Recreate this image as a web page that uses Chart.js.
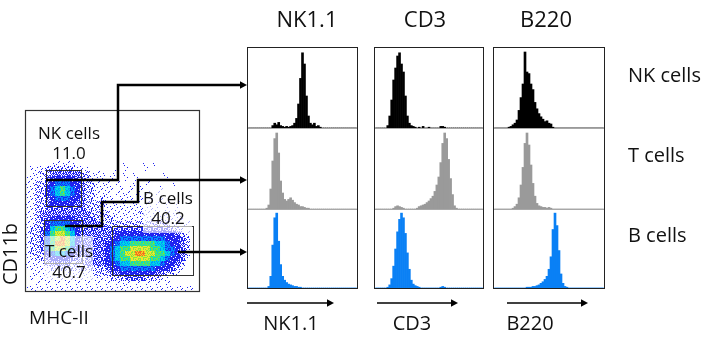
<!DOCTYPE html>
<html>
<head>
<meta charset="utf-8">
<script src="https://cdn.jsdelivr.net/npm/chart.js@4.4.0/dist/chart.umd.min.js"></script>
<style>
  html, body { margin: 0; padding: 0; background: #fff; }
  #fig { position: relative; width: 703px; height: 341px; overflow: hidden;
         font-family: "Open Sans", sans-serif; color: #111; }
  #fig canvas { position: absolute; }
  .t { position: absolute; white-space: nowrap; line-height: 1; transform: translate(-50%, -50%); }
  .l { position: absolute; white-space: nowrap; line-height: 1; transform: translate(0, -50%); }
  .bg { position: absolute; background: rgba(255, 255, 255, 0.62); }
  #overlay { position: absolute; left: 0; top: 0; }
</style>
</head>
<body>
<div id="fig">
  <svg id="overlay" width="703" height="341"></svg>
</div>
<script>
// ---- MHC-II vs CD11b dot plot: event density per 5x5 cell (0 = empty ... 9 = densest)
// 35 columns (MHC-II, low -> high) x 36 rows (CD11b, high -> low)
const DENSITY_ROWS = [
  "00000 00000 00000 00000 00000 00000 00000",
  "00000 00000 00000 00000 00000 00000 00000",
  "00000 00000 00000 00000 00000 00000 00000",
  "00000 00000 00000 00000 00000 00000 00000",
  "00000 00000 00000 00000 00000 00000 00000",
  "00000 00000 00000 00000 00000 00000 00000",
  "00000 00000 00000 00000 00000 00000 00000",
  "00000 00000 00000 00000 00000 00000 00000",
  "00000 00000 00000 00000 00000 00000 00000",
  "00000 00000 00000 00000 00000 00000 00000",
  "00000 11111 00000 00001 00010 10000 00000",
  "01112 22222 11100 00010 10001 00000 00000",
  "01122 33333 32211 10101 01000 00100 00000",
  "11113 44444 33211 10100 10100 00010 00000",
  "11223 45554 43221 11010 01001 00001 00000",
  "11224 56765 43221 11101 01010 00100 00000",
  "11224 56765 43221 11011 10101 01000 00000",
  "11223 45554 43221 21101 11010 10100 00000",
  "11223 44444 33222 21111 01101 01010 10000",
  "11223 33333 33222 21111 11111 11010 10000",
  "11233 33333 33322 22111 11121 11111 10000",
  "11233 44444 33332 22211 11111 11111 11000",
  "11224 55554 43333 22222 22222 22221 11100",
  "12234 67765 43333 33333 33333 33332 21000",
  "12235 78876 43333 33344 44444 44444 32100",
  "12235 78986 43333 33445 55555 55544 43200",
  "12235 79986 43333 34456 67777 76654 43200",
  "12235 78875 43333 34567 78888 77655 43200",
  "12224 56654 33333 34567 88998 87765 43200",
  "11223 44443 32333 34567 78888 77654 43100",
  "11112 33332 22333 34456 67777 66544 32000",
  "11111 22222 22222 23445 55555 54443 21000",
  "01111 11111 11112 22334 44444 43322 10000",
  "01011 11111 11111 11222 33332 22110 00000",
  "00101 01010 10101 01011 10101 01010 00000",
  "11111 11111 11111 11111 11111 11111 11110"
];

// ---- Histograms (55 bins, % of modal count) for each gated population
const BINS = 55;
const NK11_NK = [0,0,0,0,0,0,0,0,0,0,0,0, 3,6,4,7,3,2,1,2,1,2,3,6,12,30,62,94,80,40,15,6,4,6,2,3,1];
const NK11_T  = [0,0,0,0,0,0,0,0,0, 1,5,25,60,88,95,70,35,20,12,10,12,14,11,8,6,5,3,3,2,1,1];
const NK11_B  = [0,0,0,0,0,0,0,0,0,0, 2,15,55,90,96,60,30,15,10,7,5,4,3,2,2,1,1];
const CD3_NK  = [0,0,0,0,0,0, 3,15,35,60,75,90,94,80,70,40,15,6,3,2,1,0,1,0,2,0,0,1,0,0,0,0,0,2,2,1];
const CD3_T   = [0,0,0,0,0,0,0,0,0, 1,3,4,3,2,1, 0,0,0,0,0,0, 1,3,4,5,6,8,10,13,16,22,30,40,58,82,95,88,62,38,18,4,1];
const CD3_B   = [0,0,0,0,0,0, 1,4,12,28,50,72,88,96,90,70,45,24,10,5,3,2,1, 0,0,0,0,0,0,0,0,0,0, 1,2,1];
const B220_NK = [0,0,0,0,0,0,0, 1,2,4,6,10,22,38,55,95,70,68,55,48,32,24,18,14,11,8,9,6,5,1];
const B220_T  = [0,0,0,0,0,0,0,0,0, 1,3,6,14,30,52,82,95,80,55,32,16,7,4,3,2,2,1,2,1];
const B220_B  = [0,0,0,0,0,0,0,0,0,0,0,0,0,0,0,0, 1,1,1,2,2,3,4,6,8,11,15,24,40,75,96,80,48,18,6,2,1];

const MARKERS = ["NK1.1", "CD3", "B220"];
const POPULATIONS = ["NK cells", "T cells", "B cells"];
const GATE_PERCENTS = ["11.0", "40.7", "40.2"];

// ---- styling
// every density level is a fixed 10x10 dot texture: pixels whose order is
// below `cover` take colour a, the rest colour b (or stay empty)
const DOT_ORDER = [
  "3718052946",
  "5290416837",
  "8463927105",
  "1057384629",
  "6924158370",
  "4381609752",
  "9702543168",
  "2546871093",
  "7139260485",
  "0865792314"
];
const BLUE = "rgb(32,36,240)";
const LEVEL_STYLE = [null,
  { a: BLUE, b: null, cover: 1 },
  { a: BLUE, b: null, cover: 3 },
  { a: BLUE, b: null, cover: 6 },
  { a: BLUE, b: null, cover: 9 },
  { a: "rgb(0,140,255)", b: BLUE, cover: 6 },
  { a: "rgb(0,220,225)", b: "rgb(0,150,255)", cover: 6 },
  { a: "rgb(100,230,80)", b: "rgb(0,215,215)", cover: 6 },
  { a: "rgb(240,232,45)", b: "rgb(130,230,70)", cover: 6 },
  { a: "rgb(245,110,30)", b: "rgb(242,205,40)", cover: 6 }
];
const POP_COLORS = ["#000000", "#9a9a9a", "#0a80f5"];

const fig = document.getElementById("fig");
const svg = document.getElementById("overlay");
const NS = "http://www.w3.org/2000/svg";

function addCanvas(left, top, w, h) {
  const c = document.createElement("canvas");
  c.width = w; c.height = h;
  c.style.left = left + "px"; c.style.top = top + "px";
  c.style.width = w + "px"; c.style.height = h + "px";
  fig.insertBefore(c, svg);
  return c;
}
function addDiv(cls, text, x, y, size, extra) {
  const d = document.createElement("div");
  d.className = cls;
  if (text) d.textContent = text;
  d.style.left = x + "px"; d.style.top = y + "px";
  if (size) d.style.fontSize = size + "px";
  if (extra) Object.assign(d.style, extra);
  fig.appendChild(d);
  return d;
}
function svgEl(tag, attrs) {
  const e = document.createElementNS(NS, tag);
  for (const k in attrs) e.setAttribute(k, attrs[k]);
  svg.appendChild(e);
  return e;
}
function dotTexture(ctx, style) {
  const tile = document.createElement("canvas");
  tile.width = 10; tile.height = 10;
  const tc = tile.getContext("2d");
  DOT_ORDER.forEach((row, j) => {
    for (let i = 0; i < row.length; i++) {
      const col = +row[i] < style.cover ? style.a : style.b;
      if (col) { tc.fillStyle = col; tc.fillRect(i, j, 1, 1); }
    }
  });
  return ctx.createPattern(tile, "repeat");
}

const baseOpts = {
  responsive: false, animation: false, events: [],
  devicePixelRatio: 1,
  layout: { padding: 0, autoPadding: false },
  plugins: { legend: { display: false }, tooltip: { enabled: false } }
};

// ---- density dot plot
const CELL = 5;
const nCols = 35, nRows = DENSITY_ROWS.length;
const dotCanvas = addCanvas(25, 111, nCols * CELL, nRows * CELL);
const dotCtx = dotCanvas.getContext("2d");
const densitySets = [];
for (let lvl = 1; lvl <= 9; lvl++) {
  densitySets.push({
    data: [], backgroundColor: dotTexture(dotCtx, LEVEL_STYLE[lvl]), borderWidth: 0,
    pointStyle: "rect", pointRadius: CELL / Math.SQRT2, pointHoverRadius: CELL / Math.SQRT2
  });
}
DENSITY_ROWS.forEach((row, r) => {
  const s = row.replace(/\s+/g, "");
  for (let c = 0; c < s.length; c++) {
    const v = +s[c];
    if (v > 0) densitySets[v - 1].data.push({ x: c + 0.5, y: r + 0.5 });
  }
});
new Chart(dotCanvas, {
  type: "scatter",
  data: { datasets: densitySets },
  options: Object.assign({}, baseOpts, {
    scales: {
      x: { type: "linear", display: false, min: 0, max: nCols },
      y: { type: "linear", display: false, min: 0, max: nRows, reverse: true }
    }
  })
});

// ---- histogram panels
const binLabels = Array.from({ length: BINS }, (_, i) => i);
const padBins = a => a.concat(new Array(Math.max(0, BINS - a.length)).fill(0));
const panels = [
  { left: 247, width: 110, series: [NK11_NK, NK11_T, NK11_B] },
  { left: 374, width: 109, series: [CD3_NK, CD3_T, CD3_B] },
  { left: 493, width: 111, series: [B220_NK, B220_T, B220_B] }
];
const rowTops = [48, 129, 210], rowHeights = [80, 80, 78];
panels.forEach(p => {
  p.series.forEach((vals, i) => {
    new Chart(addCanvas(p.left + 1, rowTops[i], p.width - 1, rowHeights[i]), {
      type: "bar",
      data: { labels: binLabels, datasets: [{
        data: padBins(vals), backgroundColor: POP_COLORS[i], borderWidth: 0,
        barPercentage: 1, categoryPercentage: 1
      }] },
      options: Object.assign({}, baseOpts, {
        scales: {
          x: { display: false },
          y: { display: false, min: 0, max: 100 }
        }
      })
    });
  });
  svgEl("rect", { x: p.left + 0.5, y: 47.5, width: p.width, height: 241,
                  fill: "none", stroke: "#222", "stroke-width": 1 });
  [128.5, 209.5].forEach(y => svgEl("line", { x1: p.left + 1, x2: p.left + p.width, y1: y, y2: y,
                                              stroke: "#a8a8a8", "stroke-width": 1 }));
});

// ---- label backgrounds inside the dot plot
addDiv("bg", null, 44, 236, null, { width: "49px", height: "44px" });
addDiv("bg", null, 143, 188, null, { width: "49px", height: "45px" });

// ---- dot plot frame and gates
svgEl("rect", { x: 25.5, y: 110.5, width: 174, height: 181, fill: "none", stroke: "#333", "stroke-width": 1.2 });
svgEl("rect", { x: 46.5, y: 170.5, width: 35, height: 36, fill: "none", stroke: "#333", "stroke-width": 1 });
svgEl("rect", { x: 44.5, y: 220.5, width: 38, height: 43, fill: "none", stroke: "#333", "stroke-width": 1 });
svgEl("rect", { x: 112.5, y: 226.5, width: 81, height: 49, fill: "none", stroke: "#333", "stroke-width": 1 });

// ---- connector arrows from gates to histogram rows
function arrow(points, tipX, tipY, w, head) {
  svgEl("polyline", { points: points, fill: "none", stroke: "#000", "stroke-width": w,
                      "stroke-linejoin": "miter" });
  svgEl("polygon", { points: `${tipX - head},${tipY - head * 0.55} ${tipX},${tipY} ${tipX - head},${tipY + head * 0.55}`,
                     fill: "#000" });
}
arrow("46,180 118,180 118,85 241,85", 247, 85, 2.5, 7);
arrow("65,226 102,226 102,202 138,202 138,180 241,180", 247, 180, 2.5, 7);
arrow("178,252 241,252", 247, 252, 2.5, 7);

// axis direction arrows under the histogram panels
arrow("247,303 328,303", 334, 303, 1.4, 7);
arrow("377,303 452,303", 458, 303, 1.4, 7);
arrow("507,303 582,303", 588, 303, 1.4, 7);

// ---- text
const topX = [307, 425, 546], botX = [291, 412, 530];
MARKERS.forEach((m, i) => {
  addDiv("t", m, topX[i], 18, 22);
  addDiv("t", m, botX[i], 323, 20);
});
const rightY = [75, 155, 235];
POPULATIONS.forEach((p, i) => addDiv("l", p, 628, rightY[i], 20));

addDiv("t", POPULATIONS[0], 69, 132, 17);
addDiv("t", GATE_PERCENTS[0], 69, 152, 17);
addDiv("t", POPULATIONS[1], 69, 250, 17);
addDiv("t", GATE_PERCENTS[1], 69, 271, 17);
addDiv("t", POPULATIONS[2], 168, 197, 17);
addDiv("t", GATE_PERCENTS[2], 168, 217, 17);

addDiv("t", "CD11b", 10, 254, 20, { transform: "translate(-50%, -50%) rotate(-90deg)" });
addDiv("t", "MHC-II", 59, 317, 19);
</script>
</body>
</html>
